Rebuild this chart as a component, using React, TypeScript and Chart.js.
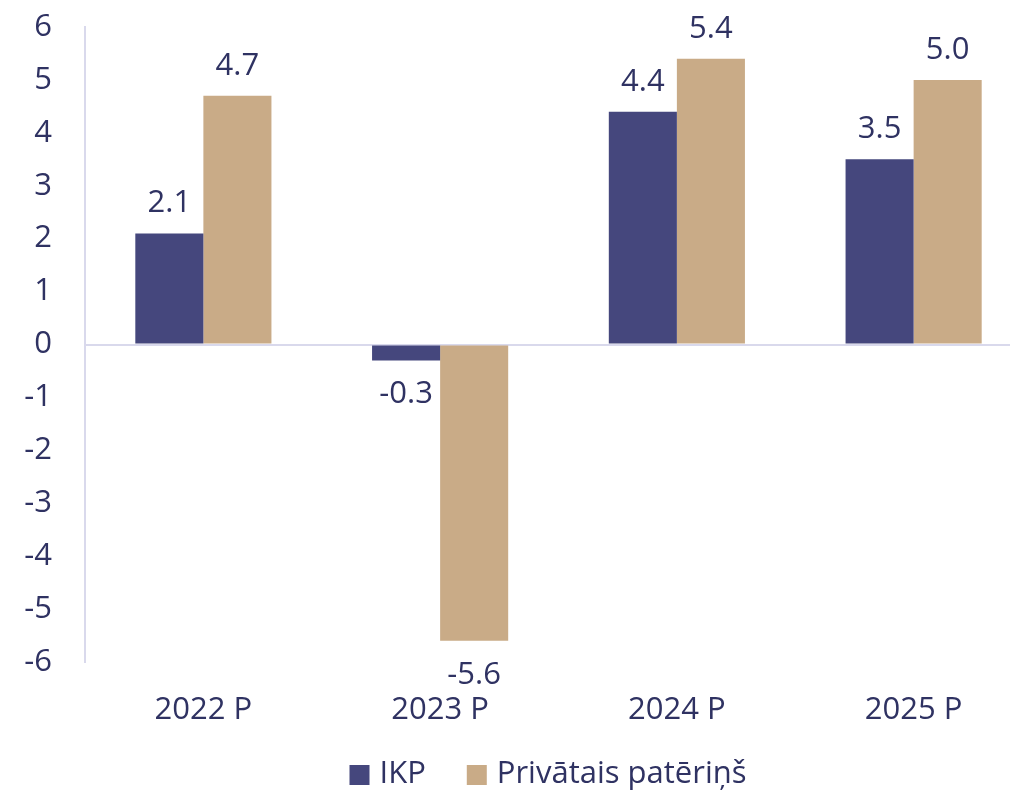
import React, { useEffect, useRef } from "react";
import { Chart, registerables } from "chart.js";

Chart.register(...registerables);

const categories = ["2022 P", "2023 P", "2024 P", "2025 P"];
const ikpValues = [2.1, -0.3, 4.4, 3.5];
const privValues = [4.7, -5.6, 5.4, 5.0];
const seriesNames = ["IKP", "Privātais patēriņš"];
const yMin = -6;
const yMax = 6;
const yStep = 1;

const NAVY = "#45477D";
const TAN = "#C9AB87";
const TEXT = "#2F3262";
const AXIS = "#D9D9EC";
const FONT = "'Open Sans', sans-serif";
const FONT_SIZE = 31;

const valueLabels = {
  id: "valueLabels",
  afterDatasetsDraw(chart: any) {
    const ctx = chart.ctx;
    ctx.save();
    ctx.font = `${FONT_SIZE}px ${FONT}`;
    ctx.fillStyle = TEXT;
    ctx.textAlign = "center";
    ctx.textBaseline = "alphabetic";
    chart.data.datasets.forEach((ds: any, di: number) => {
      const meta = chart.getDatasetMeta(di);
      meta.data.forEach((bar: any, i: number) => {
        const v = ds.data[i];
        const txt = v.toFixed(1);
        if (v >= 0) ctx.fillText(txt, bar.x, bar.y - 21);
        else ctx.fillText(txt, bar.x, bar.y + 43);
      });
    });
    ctx.restore();
  },
};

const customLegend = {
  id: "customLegend",
  afterDraw(chart: any) {
    const ctx = chart.ctx;
    ctx.save();
    ctx.font = `${FONT_SIZE}px ${FONT}`;
    const box = 20;
    const gap = 10;
    const itemGap = 41;
    const items = chart.data.datasets.map((ds: any) => ({
      text: ds.label,
      color: ds.backgroundColor,
      w: box + gap + ctx.measureText(ds.label).width,
    }));
    const total = items.reduce((s: number, it: any) => s + it.w, 0) + itemGap * (items.length - 1);
    const centerX = 548;
    const cy = 774;
    let x = centerX - total / 2;
    items.forEach((it: any) => {
      ctx.fillStyle = it.color;
      ctx.fillRect(x, cy - box / 2 + 1, box, box);
      ctx.fillStyle = TEXT;
      ctx.textAlign = "left";
      ctx.textBaseline = "middle";
      ctx.fillText(it.text, x + box + gap, cy);
      x += it.w + itemGap;
    });
    ctx.restore();
  },
};

export default function App() {
  const ref = useRef<HTMLCanvasElement | null>(null);

  useEffect(() => {
    if (!ref.current) return;
    const chart = new Chart(ref.current, {
      type: "bar",
      data: {
        labels: categories,
        datasets: [
          {
            label: seriesNames[0],
            data: ikpValues,
            backgroundColor: NAVY,
            barPercentage: 1,
            categoryPercentage: 0.575,
          },
          {
            label: seriesNames[1],
            data: privValues,
            backgroundColor: TAN,
            barPercentage: 1,
            categoryPercentage: 0.575,
          },
        ],
      },
      options: {
        responsive: false,
        animation: false,
        layout: { padding: { left: 0, right: 8, top: 27, bottom: 48 } },
        plugins: {
          legend: { display: false },
          tooltip: { enabled: false },
        },
        scales: {
          x: {
            grid: { display: false },
            border: { display: false },
            ticks: {
              color: TEXT,
              font: { family: FONT, size: FONT_SIZE },
              padding: 22,
            },
            afterFit(scale: any) {
              scale.height = 80;
            },
          },
          y: {
            min: yMin,
            max: yMax,
            ticks: {
              stepSize: yStep,
              color: TEXT,
              font: { family: FONT, size: FONT_SIZE },
              padding: 33,
            },
            grid: {
              drawTicks: false,
              lineWidth: 2,
              color: (c: any) => (c.tick && c.tick.value === 0 ? AXIS : "rgba(0,0,0,0)"),
            },
            border: { display: true, color: AXIS, width: 2 },
            afterFit(scale: any) {
              scale.width = 85;
              scale.paddingTop = 0;
              scale.paddingBottom = 0;
            },
          },
        },
      },
      plugins: [valueLabels, customLegend],
    });
    return () => chart.destroy();
  }, []);

  return (
    <div
      style={{
        position: "absolute",
        left: 0,
        top: 0,
        width: 1010,
        height: 790,
        overflow: "hidden",
        background: "#fff",
      }}
    >
      <canvas ref={ref} width={1040} height={790} style={{ display: "block" }} />
    </div>
  );
}
